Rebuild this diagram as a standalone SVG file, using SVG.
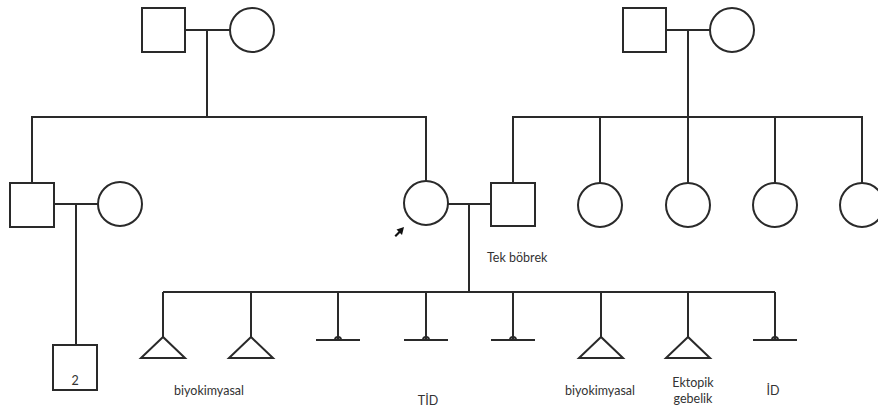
<svg xmlns="http://www.w3.org/2000/svg" width="878" height="408" viewBox="0 0 878 408">
  <style>
    .sym { fill: #fff; stroke: #2a2a2a; stroke-width: 2; }
    .ln { fill: none; stroke: #2a2a2a; stroke-width: 2; }
    .lbl { font-family: Lato, "Open Sans", sans-serif; font-size: 12.5px; fill: #333; }
  </style>
  <defs>
    <!-- termination symbol: short bar with a small bump where the line meets it -->
    <g id="term">
      <line class="ln" x1="-22" y1="0" x2="22" y2="0"/>
      <path class="ln" d="M-3,0 A3,3 0 0 1 3,0" stroke-width="1.5"/>
    </g>
    <polygon id="tri" class="sym" points="0,0 -22,21 22,21"/>
  </defs>

  <g id="connectors">
    <!-- paternal grandparents -->
    <line class="ln" x1="185" y1="30" x2="230" y2="30"/>
    <line class="ln" x1="207" y1="30" x2="207" y2="117"/>
    <polyline class="ln" points="32,183 32,117 426,117 426,181"/>
    <!-- maternal grandparents -->
    <line class="ln" x1="666" y1="30" x2="710" y2="30"/>
    <line class="ln" x1="688" y1="30" x2="688" y2="117"/>
    <polyline class="ln" points="513,183 513,117 862,117 862,183"/>
    <line class="ln" x1="600" y1="117" x2="600" y2="183"/>
    <line class="ln" x1="688" y1="117" x2="688" y2="183"/>
    <line class="ln" x1="775" y1="117" x2="775" y2="183"/>
    <!-- left couple -->
    <line class="ln" x1="54" y1="204" x2="98" y2="204"/>
    <line class="ln" x1="76" y1="204" x2="76" y2="345"/>
    <!-- central couple -->
    <line class="ln" x1="448" y1="204" x2="491" y2="204"/>
    <line class="ln" x1="469" y1="204" x2="469" y2="292"/>
    <line class="ln" x1="163" y1="292" x2="775" y2="292"/>
    <line class="ln" x1="163" y1="292" x2="163" y2="337"/>
    <line class="ln" x1="251" y1="292" x2="251" y2="337"/>
    <line class="ln" x1="338" y1="292" x2="338" y2="340"/>
    <line class="ln" x1="426" y1="292" x2="426" y2="340"/>
    <line class="ln" x1="513" y1="292" x2="513" y2="340"/>
    <line class="ln" x1="601" y1="292" x2="601" y2="337"/>
    <line class="ln" x1="688" y1="292" x2="688" y2="337"/>
    <line class="ln" x1="775" y1="292" x2="775" y2="340"/>
  </g>

  <g id="pgf"><rect class="sym" x="142" y="8" width="43" height="44"/></g>
  <g id="pgm"><circle class="sym" cx="252" cy="30" r="22"/></g>
  <g id="mgf"><rect class="sym" x="623" y="8" width="43" height="44"/></g>
  <g id="mgm"><circle class="sym" cx="732" cy="30" r="22"/></g>

  <g id="uncle"><rect class="sym" x="10" y="183" width="44" height="44"/></g>
  <g id="uncle-wife"><circle class="sym" cx="120" cy="204" r="22"/></g>
  <g id="cousins">
    <rect class="sym" x="53" y="345" width="44" height="45"/>
    <text class="lbl" x="75" y="385" text-anchor="middle" font-size="13">2</text>
  </g>

  <g id="proband">
    <circle class="sym" cx="426" cy="203" r="22"/>
    <path d="M404,227 L396.5,229.5 L398.5,231.5 L394.5,235.5 L396,237 L400,233 L402,235 Z" fill="#111"/>
  </g>
  <g id="husband">
    <rect class="sym" x="491" y="183" width="44" height="43"/>
    <text class="lbl" x="487" y="262">Tek böbrek</text>
  </g>

  <g id="aunts">
    <circle class="sym" cx="600" cy="205" r="22"/>
    <circle class="sym" cx="688" cy="205" r="22"/>
    <circle class="sym" cx="775" cy="205" r="22"/>
    <circle class="sym" cx="862" cy="205" r="22"/>
  </g>

  <g id="p1"><use href="#tri" x="163" y="337"/></g>
  <g id="p2"><use href="#tri" x="251" y="337"/></g>
  <g id="p3"><use href="#term" x="338" y="340"/></g>
  <g id="p4"><use href="#term" x="426" y="340"/></g>
  <g id="p5"><use href="#term" x="513" y="340"/></g>
  <g id="p6"><use href="#tri" x="601" y="337"/></g>
  <g id="p7"><use href="#tri" x="688" y="337"/></g>
  <g id="p8"><use href="#term" x="775" y="340"/></g>

  <g id="labels">
    <text class="lbl" x="209" y="395" text-anchor="middle">biyokimyasal</text>
    <text class="lbl" x="428" y="405" text-anchor="middle">TİD</text>
    <text class="lbl" x="600" y="395" text-anchor="middle">biyokimyasal</text>
    <text class="lbl" x="693" y="387" text-anchor="middle">Ektopik</text>
    <text class="lbl" x="693" y="403" text-anchor="middle">gebelik</text>
    <text class="lbl" x="773" y="395" text-anchor="middle">İD</text>
  </g>
</svg>
